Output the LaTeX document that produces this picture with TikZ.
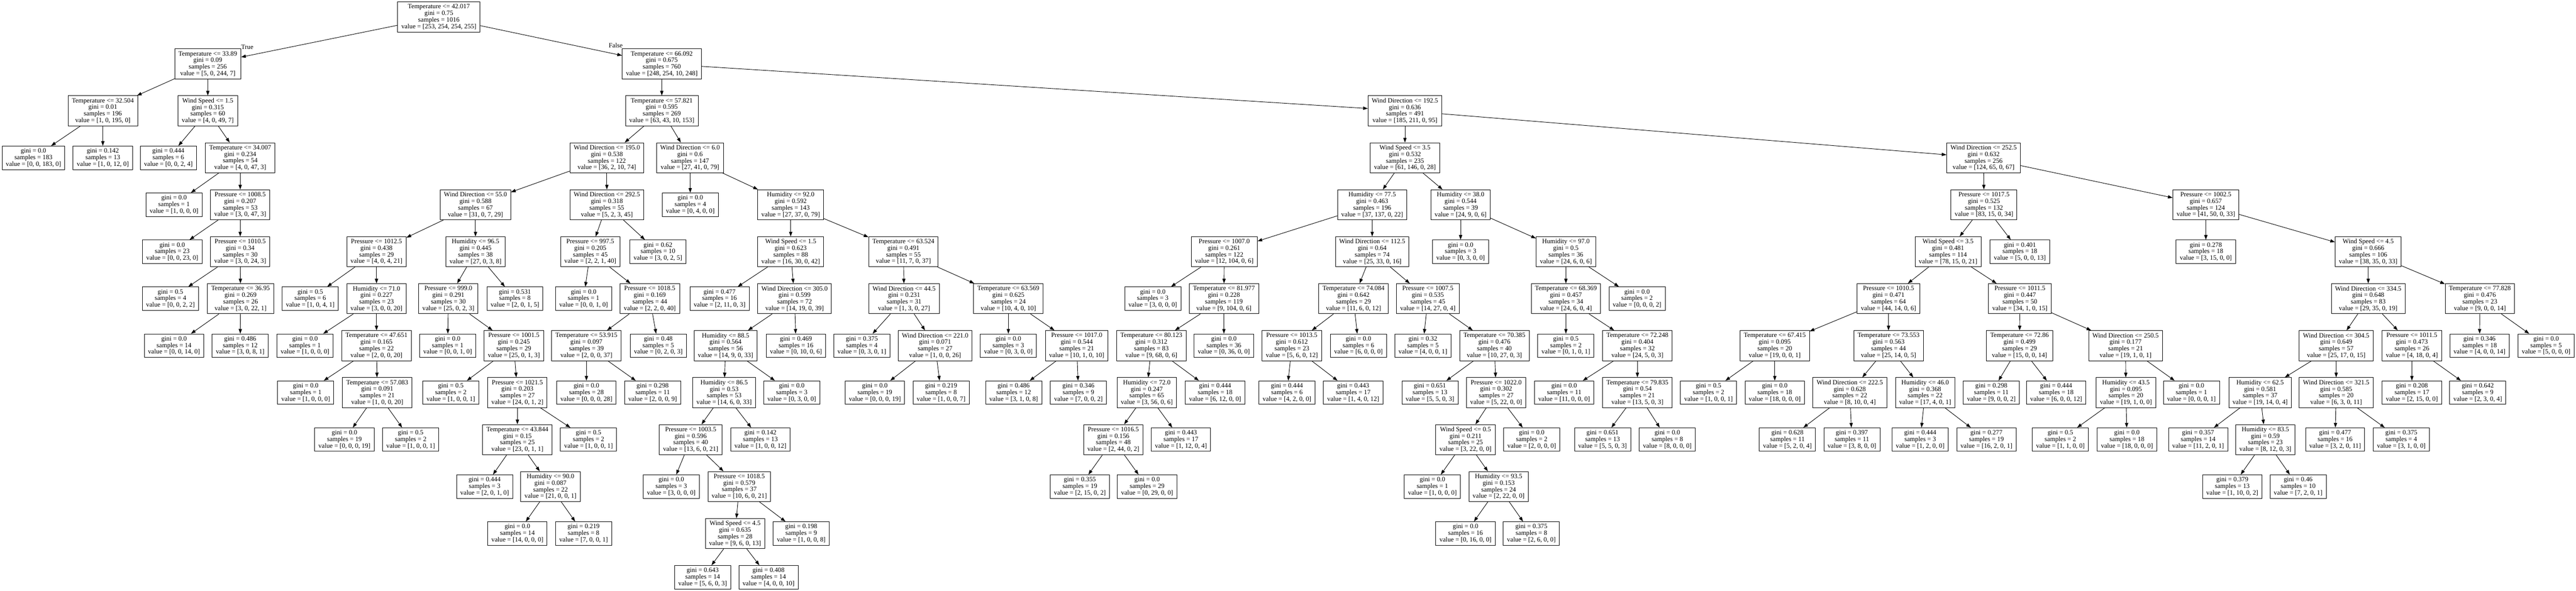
\documentclass[tikz,border=0pt]{standalone}
\usepackage{fontspec}
\setmainfont{Liberation Serif}
\usetikzlibrary{arrows.meta}
\begin{document}
\begin{tikzpicture}[x=0.75pt,y=-100pt,
  splitbox/.style={draw,rectangle,line width=1pt,align=center,inner xsep=8pt,inner ysep=4pt,
    minimum height=64pt,font=\fontsize{14}{14}\selectfont},
  leafbox/.style={splitbox,minimum height=50pt},
  link/.style={line width=1pt,-{Triangle[length=10pt,width=7pt]}},
  tag/.style={font=\fontsize{14}{14}\selectfont,inner sep=0pt}]
\useasboundingbox (0,-0.36) rectangle (7314,12.2175);
\fill[white] (0,-0.36) rectangle (7314,12.2175);
% split nodes: name/x/level/test/gini/samples/value
\foreach \nm/\px/\lv/\ft/\gi/\sa/\va in {
  n0/1246/0/Temperature <= 42.017/0.75/1016/{253, 254, 254, 255},
  n1/590/1/Temperature <= 33.89/0.09/256/{5, 0, 244, 7},
  n2/292/2/Temperature <= 32.504/0.01/196/{1, 0, 195, 0},
  n5/590/2/Wind Speed <= 1.5/0.315/60/{4, 0, 49, 7},
  n7/682/3/Temperature <= 34.007/0.234/54/{4, 0, 47, 3},
  n9/682/4/Pressure <= 1008.5/0.207/53/{3, 0, 47, 3},
  n11/682/5/Pressure <= 1010.5/0.34/30/{3, 0, 24, 3},
  n13/683/6/Temperature <= 36.95/0.269/26/{3, 0, 22, 1},
  n16/1879/1/Temperature <= 66.092/0.675/760/{248, 254, 10, 248},
  n17/1879/2/Temperature <= 57.821/0.595/269/{63, 43, 10, 153},
  n18/1723/3/Wind Direction <= 195.0/0.538/122/{36, 2, 10, 74},
  n19/1350/4/Wind Direction <= 55.0/0.588/67/{31, 0, 7, 29},
  n20/1069/5/Pressure <= 1012.5/0.438/29/{4, 0, 4, 21},
  n22/1069/6/Humidity <= 71.0/0.227/23/{3, 0, 0, 20},
  n24/1069/7/Temperature <= 47.651/0.165/22/{2, 0, 0, 20},
  n26/1071/8/Temperature <= 57.083/0.091/21/{1, 0, 0, 20},
  n29/1350/5/Humidity <= 96.5/0.445/38/{27, 0, 3, 8},
  n30/1273/6/Pressure <= 999.0/0.291/30/{25, 0, 2, 3},
  n32/1459/7/Pressure <= 1001.5/0.245/29/{25, 0, 1, 3},
  n34/1469/8/Pressure <= 1021.5/0.203/27/{24, 0, 1, 2},
  n35/1469/9/Temperature <= 43.844/0.15/25/{23, 0, 1, 1},
  n37/1563/10/Humidity <= 90.0/0.087/22/{21, 0, 0, 1},
  n42/1723/4/Wind Direction <= 292.5/0.318/55/{5, 2, 3, 45},
  n43/1676/5/Pressure <= 997.5/0.205/45/{2, 2, 1, 40},
  n45/1845/6/Pressure <= 1018.5/0.169/44/{2, 2, 0, 40},
  n46/1665/7/Temperature <= 53.915/0.097/39/{2, 0, 0, 37},
  n51/1959/3/Wind Direction <= 6.0/0.6/147/{27, 41, 0, 79},
  n53/2245/4/Humidity <= 92.0/0.592/143/{27, 37, 0, 79},
  n54/2245/5/Wind Speed <= 1.5/0.623/88/{16, 30, 0, 42},
  n56/2256/6/Wind Direction <= 305.0/0.599/72/{14, 19, 0, 39},
  n57/2060/7/Humidity <= 88.5/0.564/56/{14, 9, 0, 33},
  n58/2056/8/Humidity <= 86.5/0.53/53/{14, 6, 0, 33},
  n59/1961/9/Pressure <= 1003.5/0.596/40/{13, 6, 0, 21},
  n61/2099/10/Pressure <= 1018.5/0.579/37/{10, 6, 0, 21},
  n62/2087/11/Wind Speed <= 4.5/0.635/28/{9, 6, 0, 13},
  n69/2565/5/Temperature <= 63.524/0.491/55/{11, 7, 0, 37},
  n70/2567/6/Wind Direction <= 44.5/0.231/31/{1, 3, 0, 27},
  n72/2655/7/Wind Direction <= 221.0/0.071/27/{1, 0, 0, 26},
  n75/2863/6/Temperature <= 63.569/0.625/24/{10, 4, 0, 10},
  n77/3057/7/Pressure <= 1017.0/0.544/21/{10, 1, 0, 10},
  n80/3989/2/Wind Direction <= 192.5/0.636/491/{185, 211, 0, 95},
  n81/3989/3/Wind Speed <= 3.5/0.532/235/{61, 146, 0, 28},
  n82/3896/4/Humidity <= 77.5/0.463/196/{37, 137, 0, 22},
  n83/3476/5/Pressure <= 1007.0/0.261/122/{12, 104, 0, 6},
  n85/3475/6/Temperature <= 81.977/0.228/119/{9, 104, 0, 6},
  n86/3269/7/Temperature <= 80.123/0.312/83/{9, 68, 0, 6},
  n87/3256/8/Humidity <= 72.0/0.247/65/{3, 56, 0, 6},
  n88/3161/9/Pressure <= 1016.5/0.156/48/{2, 44, 0, 2},
  n94/3896/5/Wind Direction <= 112.5/0.64/74/{25, 33, 0, 16},
  n95/3843/6/Temperature <= 74.084/0.642/29/{11, 6, 0, 12},
  n96/3668/7/Pressure <= 1013.5/0.612/23/{5, 6, 0, 12},
  n100/4054/6/Pressure <= 1007.5/0.535/45/{14, 27, 0, 4},
  n102/4243/7/Temperature <= 70.385/0.476/40/{10, 27, 0, 3},
  n104/4248/8/Pressure <= 1022.0/0.302/27/{5, 22, 0, 0},
  n105/4161/9/Wind Speed <= 0.5/0.211/25/{3, 22, 0, 0},
  n107/4255/10/Humidity <= 93.5/0.153/24/{2, 22, 0, 0},
  n111/4147/4/Humidity <= 38.0/0.544/39/{24, 9, 0, 6},
  n113/4446/5/Humidity <= 97.0/0.5/36/{24, 6, 0, 6},
  n114/4446/6/Temperature <= 68.369/0.457/34/{24, 6, 0, 4},
  n116/4649/7/Temperature <= 72.248/0.404/32/{24, 5, 0, 3},
  n118/4649/8/Temperature <= 79.835/0.54/21/{13, 5, 0, 3},
  n122/5632/3/Wind Direction <= 252.5/0.632/256/{124, 65, 0, 67},
  n123/5633/4/Pressure <= 1017.5/0.525/132/{83, 15, 0, 34},
  n124/5531/5/Wind Speed <= 3.5/0.481/114/{78, 15, 0, 21},
  n125/5362/6/Pressure <= 1010.5/0.471/64/{44, 14, 0, 6},
  n126/5039/7/Temperature <= 67.415/0.095/20/{19, 0, 0, 1},
  n129/5362/7/Temperature <= 73.553/0.563/44/{25, 14, 0, 5},
  n130/5252/8/Wind Direction <= 222.5/0.628/22/{8, 10, 0, 4},
  n133/5466/8/Humidity <= 46.0/0.368/22/{17, 4, 0, 1},
  n136/5735/6/Pressure <= 1011.5/0.447/50/{34, 1, 0, 15},
  n137/5734/7/Temperature <= 72.86/0.499/29/{15, 0, 0, 14},
  n140/6035/7/Wind Direction <= 250.5/0.177/21/{19, 1, 0, 1},
  n141/6036/8/Humidity <= 43.5/0.095/20/{19, 1, 0, 0},
  n146/6263/4/Pressure <= 1002.5/0.657/124/{41, 50, 0, 33},
  n148/6724/5/Wind Speed <= 4.5/0.666/106/{38, 35, 0, 33},
  n149/6724/6/Wind Direction <= 334.5/0.648/83/{29, 35, 0, 19},
  n150/6633/7/Wind Direction <= 304.5/0.649/57/{25, 17, 0, 15},
  n151/6417/8/Humidity <= 62.5/0.581/37/{19, 14, 0, 4},
  n153/6432/9/Humidity <= 83.5/0.59/23/{8, 12, 0, 3},
  n156/6633/8/Wind Direction <= 321.5/0.585/20/{6, 3, 0, 11},
  n159/6848/7/Pressure <= 1011.5/0.473/26/{4, 18, 0, 4},
  n162/7041/6/Temperature <= 77.828/0.476/23/{9, 0, 0, 14}}
  \node[splitbox] (\nm) at (\px,\lv) {\ft\\gini = \gi\\samples = \sa\\value = [\va]};
% leaves: name/x/level/gini/samples/value
\foreach \nm/\px/\lv/\gi/\sa/\va in {
  n3/95/3/0.0/183/{0, 0, 183, 0}, n4/292/3/0.142/13/{1, 0, 12, 0},
  n6/478/3/0.444/6/{0, 0, 2, 4}, n8/494/4/0.0/1/{1, 0, 0, 0},
  n10/489/5/0.0/23/{0, 0, 23, 0}, n12/484/6/0.5/4/{0, 0, 2, 2},
  n14/494/7/0.0/14/{0, 0, 14, 0}, n15/682/7/0.486/12/{3, 0, 8, 1},
  n21/881/6/0.5/6/{1, 0, 4, 1}, n23/866/7/0.0/1/{1, 0, 0, 0},
  n25/868/8/0.0/1/{1, 0, 0, 0}, n27/978/9/0.0/19/{0, 0, 0, 19},
  n28/1166/9/0.5/2/{1, 0, 0, 1}, n31/1271/7/0.0/1/{0, 0, 1, 0},
  n33/1280/8/0.5/2/{1, 0, 0, 1}, n36/1376/10/0.444/3/{2, 0, 1, 0},
  n38/1469/11/0.0/14/{14, 0, 0, 0}, n39/1657/11/0.219/8/{7, 0, 0, 1},
  n40/1671/9/0.5/2/{1, 0, 0, 1}, n41/1462/6/0.531/8/{2, 0, 1, 5},
  n44/1657/6/0.0/1/{0, 0, 1, 0}, n47/1665/8/0.0/28/{0, 0, 0, 28},
  n48/1853/8/0.298/11/{2, 0, 0, 9}, n49/1869/7/0.48/5/{0, 2, 0, 3},
  n50/1868/5/0.62/10/{3, 0, 2, 5}, n52/1960/4/0.0/4/{0, 4, 0, 0},
  n55/2043/6/0.477/16/{2, 11, 0, 3}, n60/1906/10/0.0/3/{3, 0, 0, 0},
  n63/1995/11.93/0.643/14/{5, 6, 0, 3}, n64/2182/11.93/0.408/14/{4, 0, 0, 10},
  n65/2275/11/0.198/9/{1, 0, 0, 8}, n66/2159/9/0.142/13/{1, 0, 0, 12},
  n67/2248/8/0.0/3/{0, 3, 0, 0}, n68/2260/7/0.469/16/{0, 10, 0, 6},
  n71/2447/7/0.375/4/{0, 3, 0, 1}, n73/2484/8/0.0/19/{0, 0, 0, 19},
  n74/2672/8/0.219/8/{1, 0, 0, 7}, n76/2863/7/0.0/3/{0, 3, 0, 0},
  n78/2878/8/0.486/12/{3, 1, 0, 8}, n79/3062/8/0.346/9/{7, 0, 0, 2},
  n84/3273/6/0.0/3/{3, 0, 0, 0}, n89/3066/10/0.355/19/{2, 15, 0, 2},
  n90/3257/10/0.0/29/{0, 29, 0, 0}, n91/3353/9/0.443/17/{1, 12, 0, 4},
  n92/3450/8/0.444/18/{6, 12, 0, 0}, n93/3475/7/0.0/36/{0, 36, 0, 0},
  n97/3654/8/0.444/6/{4, 2, 0, 0}, n98/3842/8/0.443/17/{1, 4, 0, 12},
  n99/3857/7/0.0/6/{6, 0, 0, 0}, n101/4040/7/0.32/5/{4, 0, 0, 1},
  n103/4060/8/0.651/13/{5, 5, 0, 3}, n106/4067/10/0.0/1/{1, 0, 0, 0},
  n108/4161/11/0.0/16/{0, 16, 0, 0}, n109/4348/11/0.375/8/{2, 6, 0, 0},
  n110/4349/9/0.0/2/{2, 0, 0, 0}, n112/4147/5/0.0/3/{0, 3, 0, 0},
  n115/4446/7/0.5/2/{0, 1, 0, 1}, n117/4441/8/0.0/11/{11, 0, 0, 0},
  n119/4550/9/0.651/13/{5, 5, 0, 3}, n120/4734/9/0.0/8/{8, 0, 0, 0},
  n121/4648/6/0.0/2/{0, 0, 0, 2}, n127/4851/8/0.5/2/{1, 0, 0, 1},
  n128/5039/8/0.0/18/{18, 0, 0, 0}, n131/5075/9/0.628/11/{5, 2, 0, 4},
  n132/5258/9/0.397/11/{3, 8, 0, 0}, n134/5452/9/0.444/3/{1, 2, 0, 0},
  n135/5640/9/0.277/19/{16, 2, 0, 1}, n138/5654/8/0.298/11/{9, 0, 0, 2},
  n139/5838/8/0.444/18/{6, 0, 0, 12}, n142/5850/9/0.5/2/{1, 1, 0, 0},
  n143/6039/9/0.0/18/{18, 0, 0, 0}, n144/6222/8/0.0/1/{0, 0, 0, 1},
  n145/5735/5/0.401/18/{5, 0, 0, 13}, n147/6263/5/0.278/18/{3, 15, 0, 0},
  n152/6241/9/0.357/14/{11, 2, 0, 1}, n154/6338/10/0.379/13/{1, 10, 0, 2},
  n155/6525/10/0.46/10/{7, 2, 0, 1}, n157/6630/9/0.477/16/{3, 2, 0, 11},
  n158/6818/9/0.375/4/{3, 1, 0, 0}, n160/6848/8/0.208/17/{2, 15, 0, 0},
  n161/7035/8/0.642/9/{2, 3, 0, 4}, n163/7040/7/0.346/18/{4, 0, 0, 14},
  n164/7229/7/0.0/5/{5, 0, 0, 0}}
  \node[leafbox] (\nm) at (\px,\lv) {gini = \gi\\samples = \sa\\value = [\va]};
\foreach \a/\b in {n0/n1, n1/n2, n2/n3, n2/n4, n1/n5, n5/n6, n5/n7, n7/n8, n7/n9,
  n9/n10, n9/n11, n11/n12, n11/n13, n13/n14, n13/n15,
  n0/n16, n16/n17, n17/n18, n18/n19, n19/n20, n20/n21, n20/n22, n22/n23, n22/n24,
  n24/n25, n24/n26, n26/n27, n26/n28, n19/n29, n29/n30, n30/n31, n30/n32, n32/n33,
  n32/n34, n34/n35, n35/n36, n35/n37, n37/n38, n37/n39, n34/n40, n29/n41,
  n18/n42, n42/n43, n43/n44, n43/n45, n45/n46, n46/n47, n46/n48, n45/n49, n42/n50,
  n17/n51, n51/n52, n51/n53, n53/n54, n54/n55, n54/n56, n56/n57, n57/n58, n58/n59,
  n59/n60, n59/n61, n61/n62, n62/n63, n62/n64, n61/n65, n58/n66, n57/n67, n56/n68,
  n53/n69, n69/n70, n70/n71, n70/n72, n72/n73, n72/n74, n69/n75, n75/n76, n75/n77,
  n77/n78, n77/n79,
  n16/n80, n80/n81, n81/n82, n82/n83, n83/n84, n83/n85, n85/n86, n86/n87, n87/n88,
  n88/n89, n88/n90, n87/n91, n86/n92, n85/n93, n82/n94, n94/n95, n95/n96, n96/n97,
  n96/n98, n95/n99, n94/n100, n100/n101, n100/n102, n102/n103, n102/n104, n104/n105,
  n105/n106, n105/n107, n107/n108, n107/n109, n104/n110, n81/n111, n111/n112,
  n111/n113, n113/n114, n114/n115, n114/n116, n116/n117, n116/n118, n118/n119,
  n118/n120, n113/n121,
  n80/n122, n122/n123, n123/n124, n124/n125, n125/n126, n126/n127, n126/n128,
  n125/n129, n129/n130, n130/n131, n130/n132, n129/n133, n133/n134, n133/n135,
  n124/n136, n136/n137, n137/n138, n137/n139, n136/n140, n140/n141, n141/n142,
  n141/n143, n140/n144, n123/n145, n122/n146, n146/n147, n146/n148, n148/n149,
  n149/n150, n150/n151, n151/n152, n151/n153, n153/n154, n153/n155, n150/n156,
  n156/n157, n156/n158, n149/n159, n159/n160, n159/n161, n148/n162, n162/n163,
  n162/n164}
  \draw[link] (\a) -- (\b);
\node[tag] (truelbl) at (702,0.645) {True};
\node[tag] (falselbl) at (1748,0.6075) {False};
\end{tikzpicture}
\end{document}
